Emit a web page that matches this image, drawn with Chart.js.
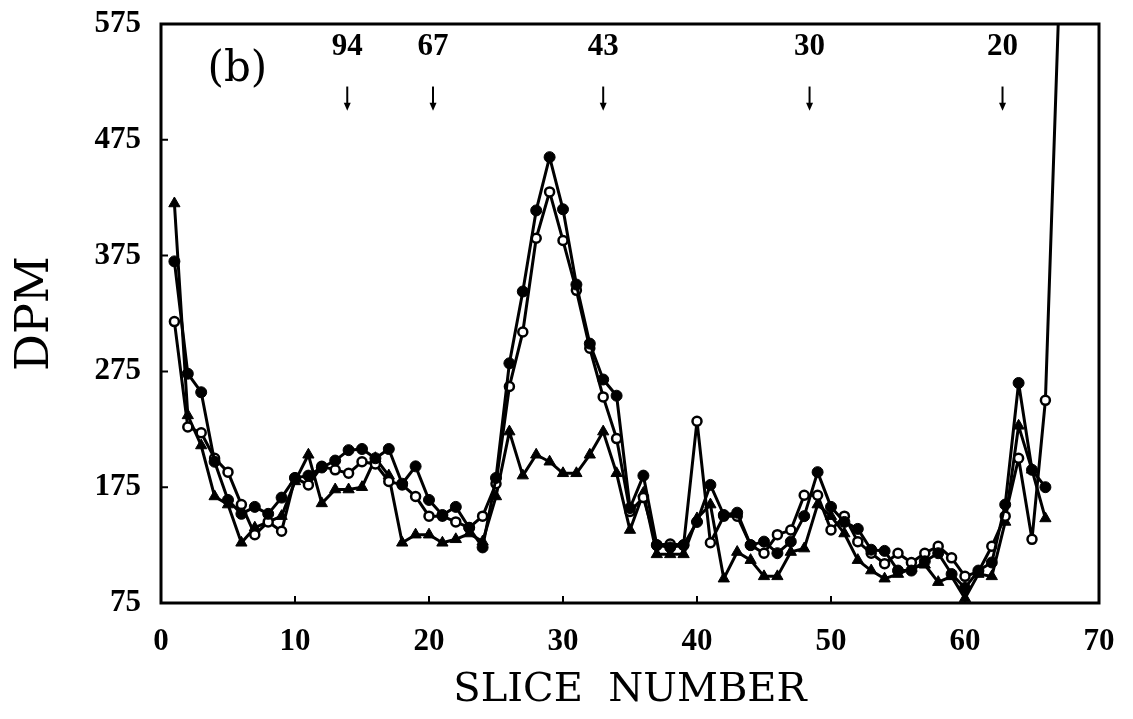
<!doctype html>
<html lang="en">

<head>
    <meta charset="utf-8">
    <title>DPM vs slice number (b)</title>
    <style>
        * {
            margin: 0;
            padding: 0;
        }

        body {
            background: white;
        }
    </style>
</head>

<body>
    <canvas id="myChart" width="1133" height="719"></canvas>
    <script type="text/javascript" src="https://cdn.jsdelivr.net/npm/chart.js/dist/chart.umd.min.js"></script>
    <script>
        // data
        const slices = [1, 2, 3, 4, 5, 6, 7, 8, 9, 10, 11, 12, 13, 14, 15, 16, 17, 18, 19, 20,
            21, 22, 23, 24, 25, 26, 27, 28, 29, 30, 31, 32, 33, 34, 35, 36, 37, 38, 39, 40,
            41, 42, 43, 44, 45, 46, 47, 48, 49, 50, 51, 52, 53, 54, 55, 56, 57, 58, 59, 60,
            61, 62, 63, 64, 65, 66, 67];

        const filledCircles = [370, 273, 257, 197, 164, 152, 158, 152, 166, 183,
            185, 192, 198, 207, 208, 200, 208, 178, 193, 164,
            151, 158, 140, 123, 183, 282, 344, 414, 460, 415,
            350, 299, 268, 254, 157, 185, 125, 123, 125, 145,
            177, 151, 153, 125, 128, 118, 128, 150, 188, 158,
            145, 139, 121, 120, 103, 103, 111, 118, 100, 88,
            103, 110, 160, 265, 190, 175, null];

        const openCircles = [318, 227, 222, 200, 188, 160, 134, 145, 137, 183,
            177, 193, 190, 187, 197, 195, 180, 177, 167, 150,
            150, 145, 140, 150, 178, 262, 309, 390, 430, 388,
            345, 295, 253, 217, 154, 166, 125, 126, 125, 232,
            127, 150, 150, 125, 118, 134, 138, 168, 168, 138,
            150, 128, 118, 109, 118, 110, 118, 124, 114, 98,
            102, 124, 150, 200, 130, 250, 590];

        const triangles = [420, 237, 211, 167, 160, 127, 140, 145, 150, 180,
            203, 161, 173, 173, 175, 200, 185, 127, 134, 134,
            127, 130, 135, 128, 167, 223, 185, 203, 197, 187,
            187, 203, 223, 187, 138, 170, 117, 117, 117, 148,
            160, 96, 119, 112, 98, 98, 119, 122, 160, 150,
            135, 112, 103, 96, 100, 105, 108, 93, 98, 79,
            100, 98, 145, 228, 190, 148, null];

        const yTicks = [75, 175, 275, 375, 475, 575];
        const xTicks = [0, 10, 20, 30, 40, 50, 60, 70];

        // molecular weight markers (kDa) along the top
        const markerLabels = ['94', '67', '43', '30', '20'];
        const markerSlices = [13.9, 20.3, 33.0, 48.4, 62.8];

        const toPoints = (vals) => slices.map((s, i) => ({ x: s, y: vals[i] }));
        const clipBox = { left: 12, right: 12, top: 0, bottom: 12 };

        const data = {
            datasets: [{
                label: 'filled',
                data: toPoints(filledCircles),
                borderColor: 'black',
                backgroundColor: 'black',
                borderWidth: 3,
                borderJoinStyle: 'round',
                pointStyle: 'circle',
                pointRadius: 5.5,
                pointBorderWidth: 1,
                clip: clipBox
            }, {
                label: 'open',
                data: toPoints(openCircles),
                borderColor: 'black',
                backgroundColor: 'white',
                borderWidth: 3,
                borderJoinStyle: 'round',
                pointStyle: 'circle',
                pointRadius: 4.5,
                pointBorderWidth: 2.5,
                clip: clipBox
            }, {
                label: 'triangles',
                data: toPoints(triangles),
                borderColor: 'black',
                backgroundColor: 'black',
                borderWidth: 3,
                borderJoinStyle: 'round',
                pointStyle: 'triangle',
                pointRadius: 6.5,
                pointBorderWidth: 1,
                clip: clipBox
            }]
        };

        // frame, inner tick marks and the marker annotations
        const frameAndMarks = {
            id: 'frameAndMarks',
            afterDraw(chart) {
                const { ctx, chartArea: { top, bottom, left, right, width, height }, scales: { x, y } } = chart;
                ctx.save();
                ctx.strokeStyle = 'black';
                ctx.lineWidth = 3;
                ctx.strokeRect(left, top, width, height);

                ctx.lineWidth = 2;
                ctx.beginPath();
                xTicks.slice(1, -1).forEach(v => {
                    const px = x.getPixelForValue(v);
                    ctx.moveTo(px, bottom);
                    ctx.lineTo(px, bottom - 7);
                });
                yTicks.slice(1, -1).forEach(v => {
                    const py = y.getPixelForValue(v);
                    ctx.moveTo(left, py);
                    ctx.lineTo(left + 7, py);
                });
                ctx.stroke();

                ctx.fillStyle = 'black';
                ctx.textAlign = 'center';
                ctx.textBaseline = 'middle';
                ctx.font = '42px "DejaVu Serif"';
                ctx.fillText('(b)', x.getPixelForValue(5.7), y.getPixelForValue(535));

                ctx.font = 'bold 31px "Liberation Serif"';
                markerLabels.forEach((lbl, i) => {
                    const px = x.getPixelForValue(markerSlices[i]);
                    ctx.fillText(lbl, px, y.getPixelForValue(555));
                    ctx.lineWidth = 2;
                    ctx.beginPath();
                    ctx.moveTo(px, y.getPixelForValue(521));
                    ctx.lineTo(px, y.getPixelForValue(505));
                    ctx.stroke();
                    ctx.beginPath();
                    ctx.moveTo(px - 3.5, y.getPixelForValue(507));
                    ctx.lineTo(px + 3.5, y.getPixelForValue(507));
                    ctx.lineTo(px, y.getPixelForValue(500));
                    ctx.closePath();
                    ctx.fill();
                });
                ctx.restore();
            }
        };

        // config
        const config = {
            type: 'line',
            data,
            options: {
                responsive: false,
                animation: false,
                layout: {
                    padding: { top: 24, right: 34, left: 0, bottom: 0 }
                },
                plugins: {
                    legend: { display: false },
                    tooltip: { enabled: false }
                },
                scales: {
                    x: {
                        type: 'linear',
                        min: 0,
                        max: 70,
                        afterFit(scale) {
                            scale.height = 116;
                            scale.paddingLeft = 0;
                            scale.paddingRight = 0;
                        },
                        afterBuildTicks(scale) { scale.ticks = xTicks.map(v => ({ value: v })); },
                        grid: { display: false },
                        border: { display: false },
                        ticks: {
                            color: 'black',
                            padding: 12,
                            maxRotation: 0,
                            font: { family: 'Liberation Serif', weight: 'bold', size: 31 }
                        },
                        title: {
                            display: true,
                            text: 'SLICE  NUMBER',
                            color: 'black',
                            padding: { top: 0, bottom: 4 },
                            font: { family: 'DejaVu Serif', size: 40 }
                        }
                    },
                    y: {
                        min: 75,
                        max: 575,
                        afterFit(scale) {
                            scale.width = 161;
                            scale.paddingTop = 0;
                            scale.paddingBottom = 0;
                        },
                        afterBuildTicks(scale) { scale.ticks = yTicks.map(v => ({ value: v })); },
                        grid: { display: false },
                        border: { display: false },
                        ticks: {
                            color: 'black',
                            padding: 12,
                            font: { family: 'Liberation Serif', weight: 'bold', size: 31 }
                        },
                        title: {
                            display: true,
                            text: 'DPM',
                            color: 'black',
                            padding: { top: 8, bottom: 0 },
                            font: { family: 'DejaVu Serif', size: 46 }
                        }
                    }
                }
            },
            plugins: [frameAndMarks]
        };

        // render init block
        const myChart = new Chart(
            document.getElementById('myChart'),
            config
        );
    </script>

</body>

</html>
